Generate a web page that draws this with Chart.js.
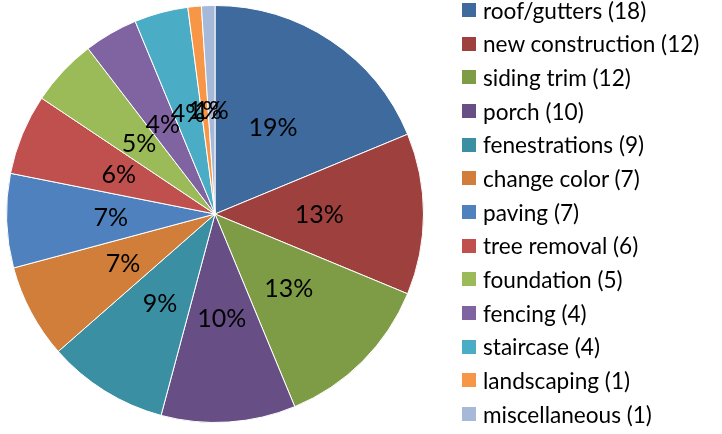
<!DOCTYPE html>
<html>
<head>
<meta charset="utf-8">
<script src="https://cdn.jsdelivr.net/npm/chart.js@4"></script>
<style>
  body { margin: 0; background: #fff; }
  #wrap { position: relative; width: 722px; height: 434px; }
  #legend { position: absolute; left: 462px; top: 0; font-family: Lato, sans-serif; font-size: 22.6px; color: #000; }
  .item { position: absolute; left: 0; height: 26px; display: flex; align-items: center; white-space: nowrap; }
  .box { width: 14px; height: 14px; margin-right: 7px; }
</style>
</head>
<body>
<div id="wrap">
  <canvas id="pieChart" width="722" height="434"></canvas>
  <div id="legend"></div>
</div>
<script>
// chart data
const labels = ["roof/gutters", "new construction", "siding trim", "porch", "fenestrations",
  "change color", "paving", "tree removal", "foundation", "fencing", "staircase",
  "landscaping", "miscellaneous"];
const counts = [18, 12, 12, 10, 9, 7, 7, 6, 5, 4, 4, 1, 1];
const colors = ["#3E6A9E", "#9E413E", "#7E9C45", "#674F86", "#3A8FA3", "#D07E3A",
  "#4E81BE", "#C0504D", "#9BBB59", "#8064A2", "#4BACC6", "#F79646", "#A7B9D9"];

const total = counts.reduce((a, b) => a + b, 0);

// draw the percentage inside each slice
const percentLabels = {
  id: "percentLabels",
  afterDatasetsDraw(chart) {
    const ctx = chart.ctx;
    const meta = chart.getDatasetMeta(0);
    ctx.save();
    ctx.font = "25px Lato, sans-serif";
    ctx.fillStyle = "#000";
    ctx.textAlign = "center";
    ctx.textBaseline = "middle";
    meta.data.forEach((arc, i) => {
      const mid = (arc.startAngle + arc.endAngle) / 2;
      const r = arc.outerRadius * 0.5;
      const x = arc.x + Math.cos(mid) * r;
      const y = arc.y + Math.sin(mid) * r + 1;
      ctx.fillText(Math.round((counts[i] / total) * 100) + "%", x, y);
    });
    ctx.restore();
  },
};

const ctx = document.getElementById("pieChart").getContext("2d");
new Chart(ctx, {
  type: "pie",
  data: {
    labels: labels,
    datasets: [
      {
        data: counts,
        backgroundColor: colors,
        borderColor: "#fff",
        borderWidth: 1,
      },
    ],
  },
  options: {
    responsive: false,
    animation: false,
    layout: {
      padding: { left: 6, top: 5, right: 298, bottom: 11 },
    },
    plugins: {
      legend: { display: false },
      tooltip: { enabled: false },
    },
  },
  plugins: [percentLabels],
});

// legend on the right
const legend = document.getElementById("legend");
labels.forEach((name, i) => {
  const item = document.createElement("div");
  item.className = "item";
  item.style.top = (10 + i * 33.67 - 13) + "px";
  item.innerHTML = `<span class="box" style="background:${colors[i]}"></span><span>${name} (${counts[i]})</span>`;
  legend.appendChild(item);
});
</script>
</body>
</html>
